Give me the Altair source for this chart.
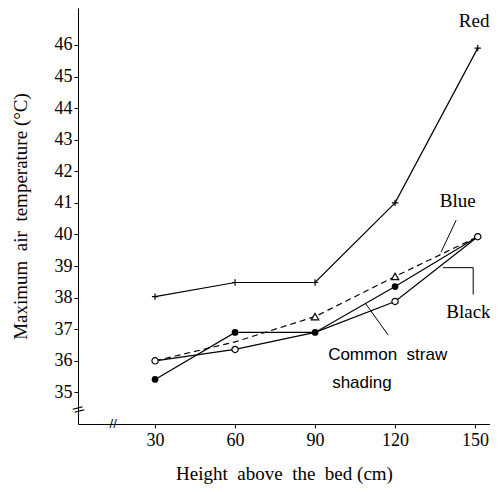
import altair as alt
import pandas as pd

heights = [30, 60, 90, 120, 151]
red = [38.03, 38.48, 38.48, 41.0, 45.9]
blue = [36.0, 36.6, 37.4, 38.67, 39.93]
black = [35.41, 36.9, 36.9, 38.35, 39.93]
common = [36.0, 36.36, 36.9, 37.88, 39.93]

x_ticks = [30, 60, 90, 120, 150]
y_ticks = [35, 36, 37, 38, 39, 40, 41, 42, 43, 44, 45, 46]

rows = []
for name, vals in [("Red", red), ("Blue", blue), ("Black", black), ("Common", common)]:
    for h, v in zip(heights, vals):
        rows.append({"series": name, "h": h, "t": v})
df = pd.DataFrame(rows)

labels = pd.DataFrame({
    "text": ["Red", "Blue", "Black"],
    "h": [155.4, 143.5, 147.5],
    "t": [46.75, 41.05, 37.55],
})
labels_sans = pd.DataFrame({
    "text": ["Common\u00a0 straw", "shading"],
    "h": [94.9, 96.4],
    "t": [36.18, 35.3],
})
leaders = pd.DataFrame({
    "h": [142.9, 138.0, 149.3, 117.4],
    "t": [40.45, 38.95, 38.95, 36.82],
    "h2": [137.3, 149.3, 149.3, 108.8],
    "t2": [39.45, 38.95, 38.1, 37.83],
})

xs = alt.Scale(domain=[1.1, 155.6], nice=False, zero=False)
ys = alt.Scale(domain=[34.0, 47.17], nice=False, zero=False)

X = alt.X("h:Q", scale=xs, axis=alt.Axis(values=x_ticks, tickCount=20, format="d",
                                        title="Height\u00a0 above\u00a0 the\u00a0 bed\u00a0(cm)",
                                        grid=False, tickSize=4, labelPadding=3, titlePadding=15,
                                        domainColor="black", tickColor="black"))
Y = alt.Y("t:Q", scale=ys, axis=alt.Axis(values=y_ticks, tickCount=20, format="d",
                                        title="Maximum\u00a0 air\u00a0 temperature\u00a0(°C)",
                                        grid=False, tickSize=4, labelPadding=2, titlePadding=24,
                                        labelOverlap=False,
                                        domainColor="black", tickColor="black"))

base = alt.Chart(df)
solid = base.mark_line(color="black", strokeWidth=1.2).encode(
    x=X, y=Y, detail="series:N"
).transform_filter(alt.FieldOneOfPredicate(field="series", oneOf=["Red", "Black", "Common"]))
dashed = base.mark_line(color="black", strokeWidth=1.2, strokeDash=[6, 4]).encode(
    x="h:Q", y="t:Q"
).transform_filter(alt.FieldEqualPredicate(field="series", equal="Blue"))

red_pts = base.mark_point(shape="M-1,0L1,0M0,-1L0,1", color="black", size=40, strokeWidth=1.2,
                          filled=False, opacity=1).encode(x="h:Q", y="t:Q").transform_filter(
    alt.FieldEqualPredicate(field="series", equal="Red"))
black_pts = base.mark_point(shape="circle", color="black", filled=True, size=45, opacity=1).encode(
    x="h:Q", y="t:Q").transform_filter(alt.FieldEqualPredicate(field="series", equal="Black"))
black_pts = black_pts.transform_filter("datum.h < 140")
common_pts = base.mark_point(shape="circle", color="black", fill="white", filled=False, size=40,
                             strokeWidth=1.2, opacity=1).encode(x="h:Q", y="t:Q").transform_filter(
    alt.FieldEqualPredicate(field="series", equal="Common"))
common_pts = common_pts.transform_filter("datum.h != 90")
blue_pts = base.mark_point(shape="triangle-up", color="black", fill="white", size=55,
                           strokeWidth=1.2, opacity=1).encode(x="h:Q", y="t:Q").transform_filter(
    alt.FieldEqualPredicate(field="series", equal="Blue")).transform_filter(
    "datum.h == 90 || datum.h == 120")

lab = alt.Chart(labels).mark_text(font="Liberation Serif", fontSize=19, color="black", align="right").encode(
    x="h:Q", y="t:Q", text="text:N").transform_filter("datum.text == 'Red'")
lab_c = alt.Chart(labels).mark_text(font="Liberation Serif", fontSize=19, color="black").encode(
    x="h:Q", y="t:Q", text="text:N").transform_filter("datum.text != 'Red'")
lab2 = alt.Chart(labels_sans).mark_text(font="Liberation Sans", fontSize=17, color="black",
                                         align="left").encode(x="h:Q", y="t:Q", text="text:N")
lead = alt.Chart(leaders).mark_rule(color="black", strokeWidth=1).encode(
    x="h:Q", y="t:Q", x2="h2:Q", y2="t2:Q")

breaks = pd.DataFrame({"h": [14.3, 1.1], "t": [34.0, 34.45], "text": ["//", "//"], "a": [0, 60]})
brk = alt.Chart(breaks).mark_text(font="Liberation Sans", fontSize=13, color="black").encode(
    x="h:Q", y="t:Q", text="text:N", angle=alt.Angle("a:Q", scale=None))

chart = alt.layer(solid, dashed, red_pts, black_pts, common_pts, blue_pts, lab, lab_c, lab2, lead, brk).properties(
    width=412, height=416,
    padding={"left": 70, "top": 0, "right": 0, "bottom": 60},
    autosize=alt.AutoSizeParams(type="none"),
).configure_view(stroke=None).configure_axis(
    labelFont="Liberation Serif", titleFont="Liberation Serif", labelFontSize=18,
    titleFontSize=19, titleFontWeight="normal", labelColor="black", titleColor="black",
)

chart.save("out.html", embed_options={"renderer": "svg", "actions": False})
